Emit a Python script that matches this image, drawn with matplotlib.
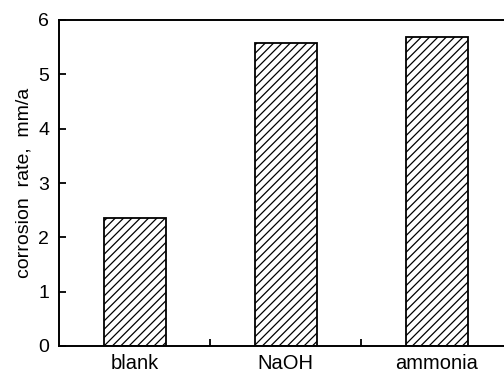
import matplotlib
matplotlib.use('Agg')
import matplotlib.pyplot as plt

# ── 資料 ──
categories = ['blank', 'NaOH', 'ammonia']
rates = [2.36, 5.58, 5.69]

plt.rcParams['font.family'] = ['Liberation Sans', 'DejaVu Sans']
plt.rcParams['hatch.linewidth'] = 0.9

fig = plt.figure(figsize=(5.04, 3.74), dpi=100)
ax = fig.add_axes([59 / 504, 28 / 374, 453.5 / 504, 326 / 374])

x = list(range(len(categories)))
ax.bar(x, rates, width=0.41, facecolor='white', edgecolor='black',
       linewidth=1.3, hatch='////')

ax.set_xlim(-0.5, len(categories) - 0.5)
ax.set_ylim(0, 6)
ax.set_yticks(range(0, 7))
ax.set_ylabel('corrosion  rate,  mm/a', fontsize=14, labelpad=4)

# 類別標籤放在中間，刻度線放在分界
ax.set_xticks(x)
ax.set_xticklabels(categories, fontsize=14.5)
ax.tick_params(axis='x', length=0, pad=6)
ax.set_xticks([0.5, 1.5], minor=True)
ax.tick_params(axis='x', which='minor', direction='in', length=5, width=1.3)
ax.tick_params(axis='y', direction='in', length=5, width=1.3, labelsize=14, pad=7)

for s in ax.spines.values():
    s.set_linewidth(1.4)

plt.savefig('out.png', dpi=100)
